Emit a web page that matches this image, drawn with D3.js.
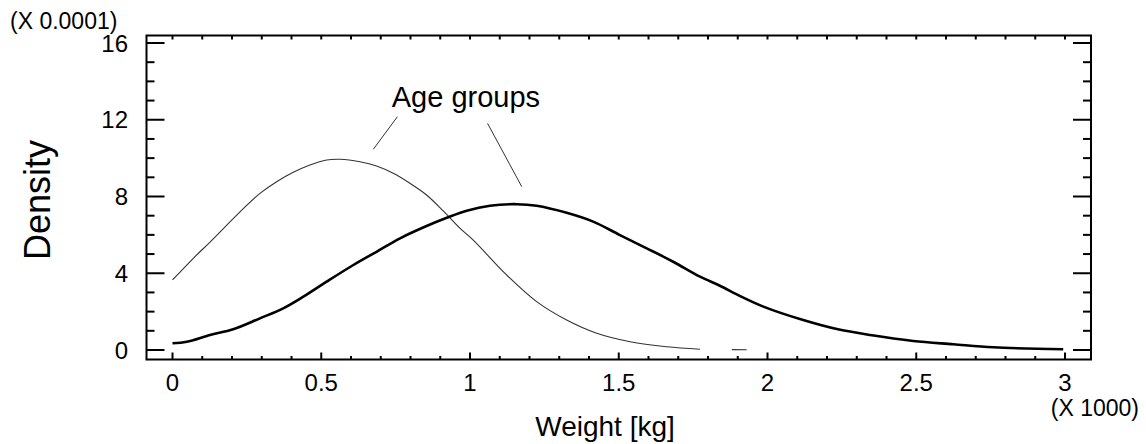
<!DOCTYPE html>
<html>
<head>
<meta charset="utf-8">
<script src="https://cdn.jsdelivr.net/npm/d3@7/dist/d3.min.js"></script>
<style>
  html, body { margin: 0; padding: 0; background: #fff; }
  svg { display: block; font-family: "Liberation Sans", Arial, sans-serif; }
</style>
</head>
<body>
<svg id="chart" width="1146" height="444"></svg>
<script>
// Weight (x 1000 g) and density (x 0.0001) for the two age groups
const youngWeight = [0, 0.07, 0.127, 0.227, 0.294, 0.35, 0.406, 0.462, 0.518, 0.563, 0.63, 0.686, 0.742, 0.798, 0.854, 0.91, 0.966, 1.011, 1.123, 1.224, 1.325, 1.426, 1.538, 1.661, 1.773, 1.83, 1.88, 1.93];
const youngDensity = [3.65, 4.78, 5.64, 7.2, 8.16, 8.77, 9.26, 9.64, 9.9, 9.94, 9.81, 9.59, 9.21, 8.69, 8.08, 7.25, 6.35, 5.73, 3.91, 2.52, 1.56, 0.87, 0.43, 0.17, 0.04, null, 0.02, 0.01];

const olderWeight = [0, 0.048, 0.126, 0.204, 0.294, 0.372, 0.44, 0.518, 0.608, 0.686, 0.765, 0.854, 0.922, 0.989, 1.067, 1.157, 1.224, 1.325, 1.414, 1.504, 1.594, 1.683, 1.773, 1.84, 1.908, 1.986, 2.12, 2.233, 2.345, 2.49, 2.625, 2.759, 2.994];
const olderDensity = [0.35, 0.43, 0.78, 1.08, 1.65, 2.17, 2.78, 3.56, 4.43, 5.12, 5.82, 6.46, 6.89, 7.26, 7.52, 7.6, 7.52, 7.15, 6.69, 5.99, 5.3, 4.6, 3.82, 3.35, 2.81, 2.26, 1.56, 1.09, 0.78, 0.47, 0.30, 0.14, 0.04];

const xMajorTicks = [0, 0.5, 1, 1.5, 2, 2.5, 3];
const xTickLabels = ["0", "0.5", "1", "1.5", "2", "2.5", "3"];
const yMajorTicks = [0, 4, 8, 12, 16];
const yTickLabels = ["0", "4", "8", "12", "16"];

const annotationText = "Age groups";
const annotationAnchor = [0.737, 12.68];
// leader lines: [x1, y1, x2, y2] in data units
const leaderLines = [
  [0.756, 12.16, 0.675, 10.46],
  [1.059, 11.81, 1.174, 8.51]
];

const svg = d3.select("#chart");

// plot frame
const frame = { left: 146.5, right: 1091, top: 35.5, bottom: 359.5 };

const x = d3.scaleLinear().domain([0, 3]).range([172.5, 1065]);
const y = d3.scaleLinear().domain([0, 16]).range([350, 43]);

const xMinor = d3.range(0, 31).map(i => i / 10);
const yMinor = d3.range(0, 17);

const g = svg.append("g");

// curves
const line = d3.line()
  .defined(d => d[1] !== null)
  .x(d => x(d[0]))
  .y(d => y(d[1]))
  .curve(d3.curveCatmullRom.alpha(0.5));

g.append("path")
  .datum(youngWeight.map((w, i) => [w, youngDensity[i]]))
  .attr("fill", "none")
  .attr("stroke", "#333")
  .attr("stroke-width", 1.1)
  .attr("d", line);

g.append("path")
  .datum(olderWeight.map((w, i) => [w, olderDensity[i]]))
  .attr("fill", "none")
  .attr("stroke", "#000")
  .attr("stroke-width", 2.6)
  .attr("d", line);

// frame box
svg.append("rect")
  .attr("x", frame.left).attr("y", frame.top)
  .attr("width", frame.right - frame.left)
  .attr("height", frame.bottom - frame.top)
  .attr("fill", "none").attr("stroke", "#000").attr("stroke-width", 2);

const ticks = svg.append("g").attr("stroke", "#000").attr("stroke-width", 2);

// bottom ticks (pointing inward)
ticks.selectAll(".xb").data(xMinor).join("line")
  .attr("x1", d => x(d)).attr("x2", d => x(d))
  .attr("y1", frame.bottom)
  .attr("y2", d => frame.bottom - (Math.abs(d * 2 - Math.round(d * 2)) < 1e-6 ? 7 : 3.5));

// top ticks
ticks.selectAll(".xt").data(xMinor).join("line")
  .attr("x1", d => x(d)).attr("x2", d => x(d))
  .attr("y1", frame.top)
  .attr("y2", frame.top + 4);

// left and right ticks
ticks.selectAll(".yl").data(yMinor).join("line")
  .attr("y1", d => y(d)).attr("y2", d => y(d))
  .attr("x1", frame.left)
  .attr("x2", d => frame.left + (d % 4 === 0 ? 18 : 8));

ticks.selectAll(".yr").data(yMinor).join("line")
  .attr("y1", d => y(d)).attr("y2", d => y(d))
  .attr("x1", frame.right)
  .attr("x2", d => frame.right - (d % 4 === 0 ? 18 : 8));

// tick labels
const labelSize = 24;
svg.append("g").selectAll("text").data(xMajorTicks).join("text")
  .attr("x", d => x(d)).attr("y", 391)
  .attr("text-anchor", "middle")
  .attr("font-size", labelSize)
  .text((d, i) => xTickLabels[i]);

svg.append("g").selectAll("text").data(yMajorTicks).join("text")
  .attr("x", 128).attr("y", d => y(d))
  .attr("dy", "0.36em")
  .attr("text-anchor", "end")
  .attr("font-size", labelSize)
  .text((d, i) => yTickLabels[i]);

// scale multipliers
svg.append("text")
  .attr("x", 10).attr("y", 29)
  .attr("font-size", 23)
  .text("(X 0.0001)");

svg.append("text")
  .attr("x", 1139).attr("y", 416)
  .attr("text-anchor", "end")
  .attr("font-size", 23)
  .text("(X 1000)");

// axis titles
svg.append("text")
  .attr("x", 605).attr("y", 436)
  .attr("text-anchor", "middle")
  .attr("font-size", 28)
  .text("Weight [kg]");

svg.append("text")
  .attr("transform", "translate(50,200) rotate(-90)")
  .attr("text-anchor", "middle")
  .attr("font-size", 36)
  .text("Density");

// annotation
svg.append("text")
  .attr("x", x(annotationAnchor[0])).attr("y", y(annotationAnchor[1]))
  .attr("font-size", 29)
  .text(annotationText);

svg.append("g").selectAll("line").data(leaderLines).join("line")
  .attr("x1", d => x(d[0])).attr("y1", d => y(d[1]))
  .attr("x2", d => x(d[2])).attr("y2", d => y(d[3]))
  .attr("stroke", "#333").attr("stroke-width", 1);
</script>
</body>
</html>
